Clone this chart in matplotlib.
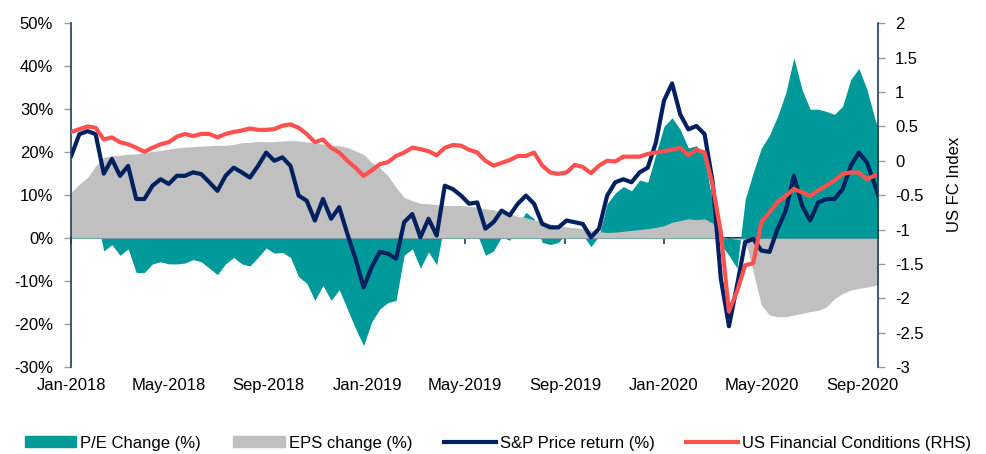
import pandas as pd
import matplotlib
matplotlib.use('Agg')
from matplotlib import pyplot as plt
from matplotlib import font_manager
import matplotlib.dates as mdates
from matplotlib.patches import Patch
from matplotlib.lines import Line2D

# sample dates: every 10 days from Jan-2018, plus the last day shown
dates = pd.date_range('2018-01-01', periods=100, freq='10D').append(pd.DatetimeIndex(['2020-09-21']))

sp_return = [19.2, 24.2, 24.9, 24.2, 15.0, 18.4, 14.5, 16.8, 9.1, 9.1,
             12.2, 13.7, 12.6, 14.5, 14.5, 15.3, 14.9, 13.0, 11.0, 14.5,
             16.4, 15.3, 14.1, 16.8, 19.9, 18.0, 18.8, 16.8, 9.9, 8.7,
             4.1, 9.1, 4.5, 7.2, 1.0, -4.8, -11.5, -6.7, -3.2, -3.6,
             -4.8, 3.7, 5.6, 0.2, 4.5, 0.6, 12.2, 11.4, 9.9, 8.0,
             8.3, 2.2, 3.7, 6.4, 5.3, 8.0, 9.9, 8.0, 3.3, 2.5,
             2.5, 4.1, 3.7, 3.3, 0.2, 2.2, 9.9, 13.0, 13.7, 13.0,
             15.3, 16.4, 22.2, 32.0, 36.0, 28.8, 25.3, 26.1, 24.2, 13.0,
             -9.4, -20.5, -11.0, -0.9, -0.2, -2.9, -3.2, 2.2, 6.4, 14.5,
             7.6, 4.1, 8.3, 9.1, 9.1, 11.4, 16.8, 19.9, 17.6, 12.2,
             9.9]

fci = [0.42, 0.46, 0.50, 0.48, 0.31, 0.34, 0.27, 0.24, 0.19, 0.13,
       0.19, 0.24, 0.27, 0.35, 0.39, 0.36, 0.39, 0.39, 0.34, 0.39,
       0.42, 0.44, 0.47, 0.45, 0.45, 0.46, 0.51, 0.53, 0.48, 0.39,
       0.27, 0.31, 0.19, 0.12, 0.00, -0.10, -0.22, -0.14, -0.05, -0.02,
       0.07, 0.12, 0.19, 0.17, 0.14, 0.08, 0.19, 0.23, 0.22, 0.16,
       0.12, 0.00, -0.07, -0.03, 0.01, 0.07, 0.07, 0.12, -0.07, -0.17,
       -0.19, -0.17, -0.06, -0.09, -0.18, -0.07, 0.00, -0.01, 0.06, 0.06,
       0.06, 0.10, 0.12, 0.14, 0.16, 0.19, 0.08, 0.16, 0.12, -0.36,
       -1.04, -2.19, -1.90, -1.52, -1.49, -0.89, -0.75, -0.60, -0.51, -0.41,
       -0.46, -0.51, -0.43, -0.36, -0.29, -0.19, -0.17, -0.17, -0.27, -0.21,
       -0.21]

eps_change = [10.7, 12.6, 14.1, 16.8, 18.8, 19.2, 19.3, 19.5, 19.6, 19.9,
              20.2, 20.4, 20.7, 21.0, 21.2, 21.3, 21.4, 21.5, 21.6, 21.6,
              21.8, 22.2, 22.3, 22.5, 22.4, 22.5, 22.6, 22.7, 22.6, 22.4,
              22.1, 21.9, 21.6, 21.5, 21.1, 20.3, 19.5, 17.6, 16.4, 14.5,
              11.8, 9.5, 8.7, 8.1, 8.0, 7.8, 7.6, 7.6, 7.6, 7.4,
              7.2, 6.8, 6.6, 6.1, 5.8, 5.0, 4.8, 4.2, 4.0, 3.3,
              3.0, 2.6, 2.4, 2.2, 1.8, 1.5, 1.3, 1.4, 1.6, 1.8,
              2.0, 2.2, 2.5, 2.9, 3.7, 4.1, 4.5, 4.3, 4.5, 3.5,
              0.3, 0.0, -0.3, -0.5, -7.9, -15.6, -17.9, -18.3, -18.3, -17.9,
              -17.5, -17.1, -16.8, -16.0, -14.1, -12.9, -12.1, -11.7, -11.4, -11.0,
              -10.8]

pe_change = [7, 10, 9.4, 6, -3, -1.5, -4, -2.5, -8, -8,
             -6, -5.5, -6, -6, -5.8, -5, -5.5, -7, -8.5, -6,
             -4.5, -6, -6.5, -4.5, -2.3, -3.5, -3.3, -4.5, -9, -10.5,
             -14.5, -11, -14.5, -12, -16.5, -21, -25, -19.5, -16.5, -15,
             -14.5, -4, -2.5, -7, -3.2, -6.2, 4, 3.5, 2, 0.5,
             1, -4, -3, 0.3, -0.5, 3, 6, 4.5, -1, -1.5,
             -1, 1.2, 1.2, 0.8, -2, 0.5, 8, 10.5, 12, 11,
             13.5, 13, 19.5, 26, 28, 25.3, 21, 21.5, 19, 8,
             -1.5, -4, -7, 9, 15.3, 21, 24, 28.4, 33.8, 42,
             34.6, 30, 30, 29.5, 28.8, 30.7, 36.9, 39.5, 34.6, 27.6,
             25.3]

teal = '#009999'
grey = '#C0C0C0'
navy = '#002060'
red = '#FF5050'
axis_col = '#1F3B5C'
tick_col = '#8A9FB5'

names = {f.name for f in font_manager.fontManager.ttflist}
family = 'Liberation Sans Narrow' if 'Liberation Sans Narrow' in names else 'Liberation Sans'
plt.rcParams['font.family'] = [family, 'DejaVu Sans']
plt.rcParams['axes.unicode_minus'] = False
fs = 12

fig = plt.figure(figsize=(9.86, 4.54), dpi=100)
ax = fig.add_axes([0.0723, 0.1916, 0.8185, 0.7571])

ax.fill_between(dates, 0, pe_change, color=teal, lw=0)
ax.fill_between(dates, 0, eps_change, color=grey, lw=0)
ax.plot(dates, sp_return, color=navy, lw=3)

ax.set_ylim(-30, 50)
ax.set_yticks(range(-30, 51, 10))
ax.set_yticklabels(['%d%%' % v for v in range(-30, 51, 10)])
ax.set_xlim(pd.Timestamp('2018-01-01'), pd.Timestamp('2020-09-21'))
ax.xaxis.set_major_locator(mdates.MonthLocator(bymonth=[1, 5, 9]))
ax.xaxis.set_major_formatter(mdates.DateFormatter('%b-%Y'))
ax.tick_params(axis='x', length=0, pad=8, labelsize=fs)
ax.tick_params(axis='y', direction='out', length=5, width=1, color=tick_col,
               pad=8, labelsize=fs)
for s in ['top', 'bottom', 'right']:
    ax.spines[s].set_visible(False)
ax.spines['left'].set_color(axis_col)
ax.spines['left'].set_linewidth(1.2)

# zero line with its month ticks
zero_ax = ax.secondary_xaxis(30 / 80)
tick_dates = pd.date_range('2018-01-01', '2020-09-21', freq='4MS')
zero_ax.set_xticks(mdates.date2num(tick_dates.to_pydatetime()))
zero_ax.set_xticklabels([])
zero_ax.spines['bottom'].set_color(axis_col)
zero_ax.spines['bottom'].set_linewidth(1.5)
zero_ax.tick_params(axis='x', direction='out', length=4, width=1.2, color=axis_col)

ax2 = ax.twinx()
ax2.plot(dates, fci, color=red, lw=3)
ax2.set_ylim(-3, 2)
rhs_ticks = [2, 1.5, 1, 0.5, 0, -0.5, -1, -1.5, -2, -2.5, -3]
ax2.set_yticks(rhs_ticks)
ax2.set_yticklabels(['%g' % v for v in rhs_ticks])
ax2.tick_params(axis='y', direction='out', length=5, width=1, color=tick_col,
                pad=7, labelsize=fs)
for s in ['top', 'bottom', 'left']:
    ax2.spines[s].set_visible(False)
ax2.spines['right'].set_color(axis_col)
ax2.spines['right'].set_linewidth(1.2)
ax2.set_ylabel('US FC Index', fontsize=fs)
ax2.yaxis.set_label_coords(1.085, 0.532)

handles = [Patch(color=teal), Patch(color=grey),
           Line2D([], [], color=navy, lw=3), Line2D([], [], color=red, lw=3)]
labels = ['P/E Change (%)', 'EPS change (%)', 'S&P Price return (%)',
          'US Financial Conditions (RHS)']
fig.legend(handles, labels, loc='center', bbox_to_anchor=(0.505, 0.024),
           ncol=4, frameon=False, fontsize=fs, handlelength=3.1,
           handleheight=0.65, handletextpad=0.25, columnspacing=1.9,
           borderpad=0, borderaxespad=0)

plt.savefig('out.png', dpi=100)
